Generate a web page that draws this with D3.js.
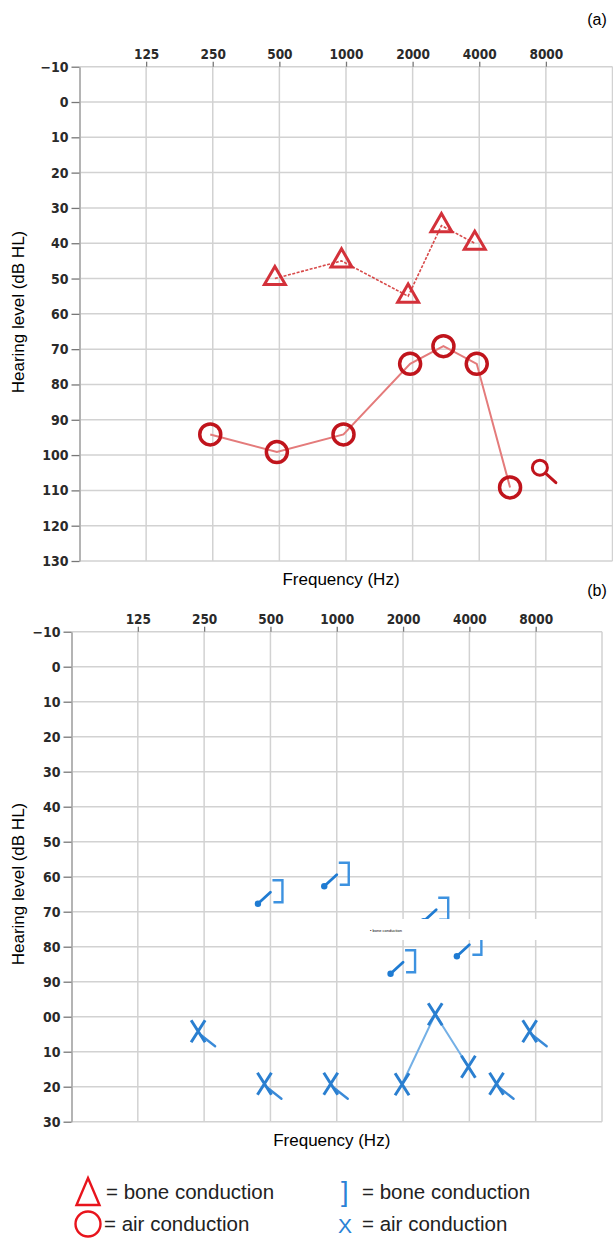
<!DOCTYPE html>
<html>
<head>
<meta charset="utf-8">
<script src="https://cdn.jsdelivr.net/npm/d3@7"></script>
<style>
  body { margin: 0; background: #fff; }
  svg { display: block; }
  .tick text { fill: #2a2a2a; }
</style>
</head>
<body>
<div class="svgContainer"></div>
<script>
let width = 613,
  height = 1239;

// frequency ticks and hearing level ticks
let freqTicks = [125, 250, 500, 1000, 2000, 4000, 8000];
let levelTicks = [-10, 0, 10, 20, 30, 40, 50, 60, 70, 80, 90, 100, 110, 120, 130];

// (a) right ear, red
let rightAirFreq = [250, 500, 1000, 2000, 3000, 4000, 6000, 8000];
let rightAirLevel = [95, 100, 95, 75, 70, 75, 110, 105];
let rightAirNoResp = [false, false, false, false, false, false, false, true];
let rightBoneFreq = [500, 1000, 2000, 3000, 4000];
let rightBoneLevel = [50, 45, 55, 35, 40];

// (b) left ear, blue
let leftAirFreq = [250, 500, 1000, 2000, 3000, 4000, 6000, 8000];
let leftAirLevel = [105, 120, 120, 120, 100, 115, 120, 105];
let leftAirNoResp = [true, true, true, false, false, false, true, true];
let leftBoneFreq = [500, 1000, 2000, 3000, 4000];
let leftBoneLevel = [65, 60, 85, 70, 80];

// audiogram convention: inter-octave frequencies sit half way between octaves
function octave(f) {
  return Math.round(2 * Math.log2(f / 62.5)) / 2;
}

let svg = d3
  .select(".svgContainer")
  .append("svg")
  .attr("width", width)
  .attr("height", height);

function drawPanel(p) {
  let x = d3.scaleLinear().domain([0, 8]).range([p.left, p.right]);
  let y = d3.scaleLinear().domain([-10, 130]).range([p.top, p.bottom]);
  let g = svg.append("g");

  // grid
  g.selectAll(".hgrid")
    .data(levelTicks)
    .enter()
    .append("line")
    .attr("x1", p.left)
    .attr("x2", p.right)
    .attr("y1", d => y(d))
    .attr("y2", d => y(d))
    .attr("stroke", "#d2d2d2")
    .attr("stroke-width", 1.5);

  g.selectAll(".vgrid")
    .data(freqTicks.map(octave).concat([8]))
    .enter()
    .append("line")
    .attr("x1", d => x(d))
    .attr("x2", d => x(d))
    .attr("y1", p.top)
    .attr("y2", p.bottom)
    .attr("stroke", "#d2d2d2")
    .attr("stroke-width", 1.5);

  let xAxis = d3
    .axisTop(x)
    .tickValues(freqTicks.map(octave))
    .tickFormat((d, i) => freqTicks[i])
    .tickSize(5)
    .tickSizeOuter(0)
    .tickPadding(3);

  let xg = g
    .append("g")
    .attr("transform", "translate(0," + p.top + ")")
    .call(xAxis);
  xg.select(".domain").remove();
  xg.selectAll("line").attr("stroke", "#777").attr("stroke-width", 1.3);
  xg.selectAll("text")
    .style("font-family", "'DejaVu Sans Condensed', 'DejaVu Sans'")
    .style("font-weight", "bold")
    .style("font-size", "13.5px");

  let yAxis = d3
    .axisLeft(y)
    .tickValues(levelTicks)
    .tickFormat(p.yFormat)
    .tickSize(8)
    .tickSizeOuter(0)
    .tickPadding(3);

  let yg = g
    .append("g")
    .attr("transform", "translate(" + p.left + ",0)")
    .call(yAxis);
  yg.select(".domain").attr("stroke", "#b4b4b4").attr("stroke-width", 2);
  yg.selectAll("line").attr("stroke", "#777").attr("stroke-width", 1.3);
  yg.selectAll("text")
    .style("font-family", "'DejaVu Sans Condensed', 'DejaVu Sans'")
    .style("font-weight", "bold")
    .style("font-size", "14px");

  g.append("text")
    .attr("x", (p.left + p.right) / 2 - 5)
    .attr("y", p.bottom + 24)
    .attr("text-anchor", "middle")
    .style("font-family", "'Liberation Sans', Arial, sans-serif")
    .style("font-size", "17px")
    .text("Frequency (Hz)");

  g.append("text")
    .attr("transform", "rotate(-90)")
    .attr("x", -p.labelY)
    .attr("y", 24)
    .attr("text-anchor", "middle")
    .style("font-family", "'Liberation Sans', Arial, sans-serif")
    .style("font-size", "17px")
    .text("Hearing level (dB HL)");

  g.append("text")
    .attr("x", 597)
    .attr("y", p.tagY)
    .attr("text-anchor", "middle")
    .style("font-family", "'Liberation Sans', Arial, sans-serif")
    .style("font-size", "16px")
    .text(p.tag);

  return { g: g, x: x, y: y };
}

function levelFmt(d) {
  return d < 0 ? "\u2212" + Math.abs(d) : d;
}

// ---------- panel (a) ----------
let a = drawPanel({
  left: 79.5,
  right: 612.5,
  top: 66.7,
  bottom: 561,
  labelY: 312,
  tag: "(a)",
  tagY: 25,
  yFormat: levelFmt
});

let redAir = rightAirFreq.map((f, i) => ({
  px: a.x(octave(f)) - 2.5,
  py: a.y(rightAirLevel[i]) - 3,
  nr: rightAirNoResp[i]
}));
let redBone = rightBoneFreq.map((f, i) => ({
  px: a.x(octave(f)) - 4.5,
  py: a.y(rightBoneLevel[i])
}));

let line = d3
  .line()
  .x(d => d.px)
  .y(d => d.py);

a.g.append("path")
  .attr("d", line(redAir.filter(d => !d.nr)))
  .attr("fill", "none")
  .attr("stroke", "#e47b7b")
  .attr("stroke-width", 2);

a.g.append("path")
  .attr("d", line(redBone))
  .attr("fill", "none")
  .attr("stroke", "#d84a4a")
  .attr("stroke-width", 1.6)
  .attr("stroke-dasharray", "3,1.5");

a.g.selectAll(".tri")
  .data(redBone)
  .enter()
  .append("path")
  .attr("d", d3.symbol().type(d3.symbolTriangle).size(190))
  .attr("transform", d => "translate(" + d.px + "," + d.py + ")")
  .attr("fill", "none")
  .attr("stroke", "#d3313a")
  .attr("stroke-width", 3);

a.g.selectAll(".circ")
  .data(redAir.filter(d => !d.nr))
  .enter()
  .append("circle")
  .attr("cx", d => d.px)
  .attr("cy", d => d.py)
  .attr("r", 10.5)
  .attr("fill", "none")
  .attr("stroke", "#c0141c")
  .attr("stroke-width", 3.5);

// no response circle with tail
redAir
  .filter(d => d.nr)
  .forEach(d => {
    let cx = d.px - 3.5,
      cy = d.py - 2;
    a.g.append("line")
      .attr("x1", cx + 5)
      .attr("y1", cy + 5)
      .attr("x2", cx + 16)
      .attr("y2", cy + 15)
      .attr("stroke", "#c0141c")
      .attr("stroke-width", 3)
      .attr("stroke-linecap", "round");
    a.g.append("circle")
      .attr("cx", cx)
      .attr("cy", cy)
      .attr("r", 7.5)
      .attr("fill", "#fff")
      .attr("stroke", "#c0141c")
      .attr("stroke-width", 3);
  });

// ---------- panel (b) ----------
let b = drawPanel({
  left: 71.5,
  right: 602,
  top: 631.7,
  bottom: 1121.7,
  labelY: 884,
  tag: "(b)",
  tagY: 596,
  yFormat: d => (d >= 100 ? String(d).slice(1) : levelFmt(d))
});

let blueAir = leftAirFreq.map((f, i) => ({
  px: b.x(octave(f)),
  py: b.y(leftAirLevel[i]),
  nr: leftAirNoResp[i]
}));
let blueBone = leftBoneFreq.map((f, i) => ({
  px: b.x(octave(f)),
  py: b.y(leftBoneLevel[i])
}));

b.g.append("path")
  .attr("d", line(blueAir.filter(d => !d.nr).map(d => ({ px: d.px - 1, py: d.py - 2.5 }))))
  .attr("fill", "none")
  .attr("stroke", "#74b0e6")
  .attr("stroke-width", 2);

// bone conduction brackets with no-response arrows
blueBone.forEach(d => {
  b.g.append("path")
    .attr(
      "d",
      "M" + (d.px + 2) + "," + (d.py - 14) +
        "H" + (d.px + 12) +
        "V" + (d.py + 8) +
        "H" + (d.px + 3)
    )
    .attr("fill", "none")
    .attr("stroke", "#3d92e0")
    .attr("stroke-width", 2.4);
  b.g.append("line")
    .attr("x1", d.px)
    .attr("y1", d.py - 2)
    .attr("x2", d.px - 12)
    .attr("y2", d.py + 9)
    .attr("stroke", "#1f7bd2")
    .attr("stroke-width", 2.8)
    .attr("stroke-linecap", "round");
  b.g.append("circle")
    .attr("cx", d.px - 12.5)
    .attr("cy", d.py + 9.5)
    .attr("r", 3.2)
    .attr("fill", "#1f7bd2");
});

// stray legend box left in the figure
b.g.append("rect")
  .attr("x", 363)
  .attr("y", 919)
  .attr("width", 180)
  .attr("height", 21)
  .attr("fill", "#fff");
b.g.append("text")
  .attr("x", 370)
  .attr("y", 932)
  .style("font-family", "'Liberation Sans', Arial, sans-serif")
  .style("font-size", "4px")
  .text("\u2022 bone conduction");

// air conduction crosses
blueAir.forEach(d => {
  let cx = d.nr ? d.px - 6 : d.px - 1,
    cy = d.nr ? d.py - 3 : d.py - 2.5;
  if (d.nr) {
    b.g.append("line")
      .attr("x1", cx + 3)
      .attr("y1", cy + 4)
      .attr("x2", cx + 17)
      .attr("y2", cy + 15)
      .attr("stroke", "#3a8ad8")
      .attr("stroke-width", 2.4)
      .attr("stroke-linecap", "round");
  }
  b.g.append("path")
    .attr(
      "d",
      "M" + (cx - 7) + "," + (cy - 11) + "L" + (cx + 7) + "," + (cy + 11) +
        "M" + (cx + 7) + "," + (cy - 11) + "L" + (cx - 7) + "," + (cy + 11)
    )
    .attr("fill", "none")
    .attr("stroke", "#2a7fd0")
    .attr("stroke-width", 3);
});

// ---------- legend ----------
let legendFont = "'Liberation Sans', Arial, sans-serif";

svg.append("path")
  .attr("d", "M88,1178 L99.5,1205 L76.5,1205 Z")
  .attr("fill", "none")
  .attr("stroke", "#e8141c")
  .attr("stroke-width", 2.4);
svg.append("circle")
  .attr("cx", 88)
  .attr("cy", 1224)
  .attr("r", 12.5)
  .attr("fill", "none")
  .attr("stroke", "#e8141c")
  .attr("stroke-width", 2.4);
svg.append("text")
  .attr("x", 341)
  .attr("y", 1201)
  .style("font-family", legendFont)
  .style("font-size", "27px")
  .attr("fill", "#2a82d6")
  .text("]");
svg.append("text")
  .attr("x", 338)
  .attr("y", 1233)
  .style("font-family", legendFont)
  .style("font-size", "21px")
  .attr("fill", "#2a82d6")
  .text("X");

let legendItems = [
  { x: 106, y: 1199, t: "= bone conduction" },
  { x: 104, y: 1231, t: "= air conduction" },
  { x: 362, y: 1199, t: "= bone conduction" },
  { x: 362, y: 1231, t: "= air conduction" }
];
svg.selectAll(".leg")
  .data(legendItems)
  .enter()
  .append("text")
  .attr("x", d => d.x)
  .attr("y", d => d.y)
  .style("font-family", legendFont)
  .style("font-size", "20.5px")
  .attr("fill", "#222")
  .text(d => d.t);
</script>
</body>
</html>
